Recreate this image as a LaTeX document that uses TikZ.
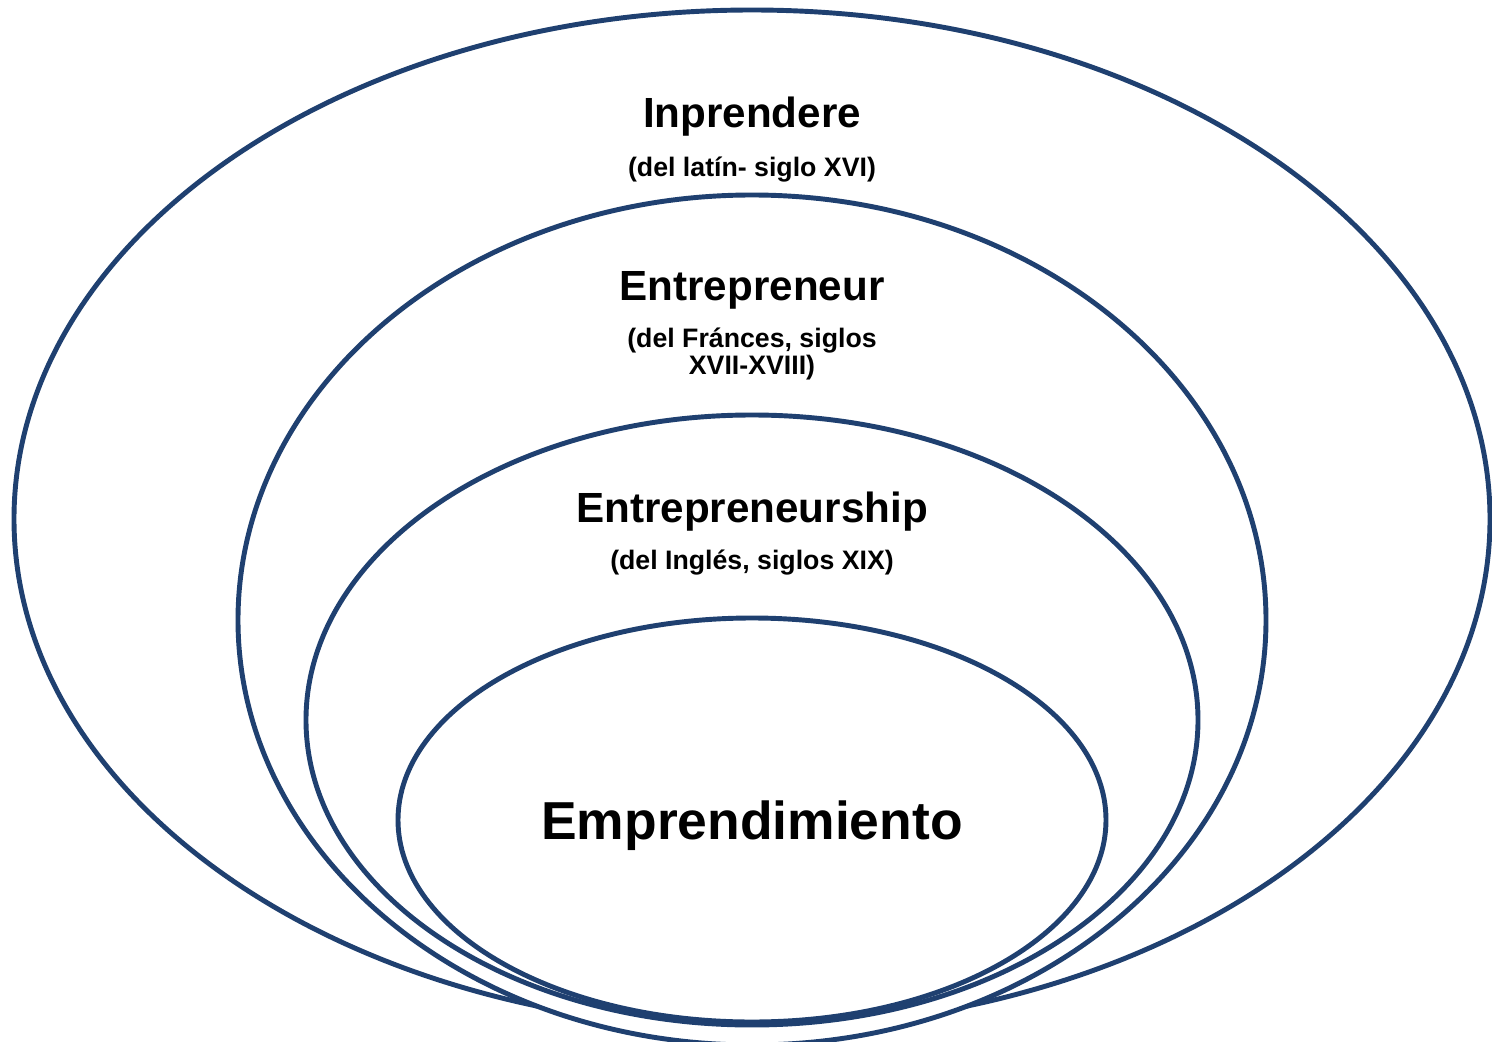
\documentclass[tikz,border=0pt]{standalone}
\usepackage{fontspec}
\setmainfont{Liberation Sans}
\definecolor{ringblue}{RGB}{31,64,112}
\tikzset{
  ring/.style={draw=ringblue,line width=1.4pt,fill=white},
  title/.style={font=\bfseries\fontsize{12}{14}\selectfont,anchor=base,inner sep=0pt},
  note/.style={font=\bfseries\fontsize{7.6}{7.9}\selectfont,align=center,inner sep=0pt},
}
\begin{document}
\begin{tikzpicture}
      \useasboundingbox (0,0) rectangle (14.92,10.41);
      \begin{scope}
        \clip (0,0) rectangle (14.92,10.41);
        \draw[ring] (7.52,5.22) ellipse [x radius=7.38,y radius=5.09];
        \draw[ring] (7.52,4.21) ellipse [x radius=5.14,y radius=4.25];
        \draw[ring] (7.52,3.21) ellipse [x radius=4.46,y radius=3.05];
        \draw[ring] (7.52,2.21) ellipse [x radius=3.54,y radius=2.02];
      \end{scope}
      \draw
        (7.52,9.13) node[title] (inprendere){Inprendere}
        (7.52,8.71) node[note] (latin){(del latín- siglo XVI)}
        (7.52,7.41) node[title] (entrepreneur){Entrepreneur}
        (7.52,6.87) node[note] (frances){(del Fránces, siglos\\XVII-XVIII)}
        (7.52,5.19) node[title] (entrepreneurship){Entrepreneurship}
        (7.52,4.78) node[note] (ingles){(del Inglés, siglos XIX)}
        (7.52,2.02) node[title,font=\bfseries\fontsize{15.2}{18}\selectfont] (emprendimiento){Emprendimiento};
    \end{tikzpicture}
\end{document}
